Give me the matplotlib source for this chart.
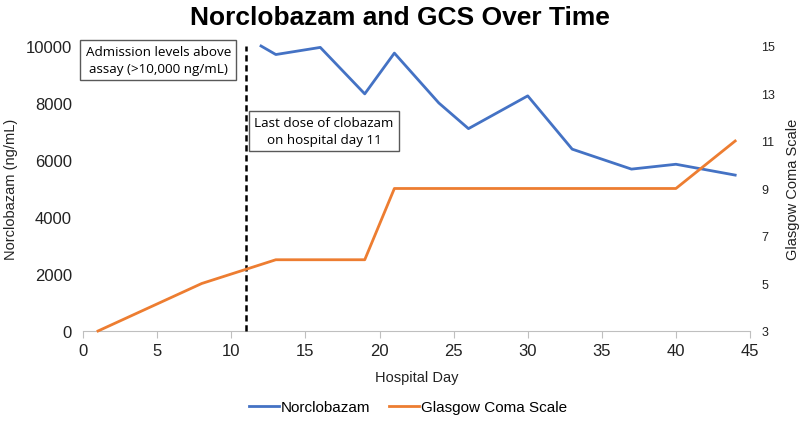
import matplotlib
matplotlib.use("Agg")
import matplotlib.pyplot as plt

plt.rcParams['font.family'] = ['Liberation Sans', 'DejaVu Sans']

# Data
nor_days = [12, 13, 16, 19, 21, 24, 26, 30, 33, 37, 40, 44]
nor_vals = [10000, 9700, 9950, 8320, 9750, 8000, 7100, 8250, 6380, 5680, 5850, 5470]
gcs_days = [1, 8, 13, 19, 21, 40, 44]
gcs_vals = [3, 5, 6, 6, 9, 9, 11]
x_ticks = [0, 5, 10, 15, 20, 25, 30, 35, 40, 45]
left_ticks = [0, 2000, 4000, 6000, 8000, 10000]
right_ticks = [3, 5, 7, 9, 11, 13, 15]
last_dose_day = 11

blue = '#4472C4'
orange = '#ED7D31'

fig = plt.figure(figsize=(8, 4.31), dpi=100)
ax = fig.add_axes([0.104, 0.2297, 0.8335, 0.6613])
ax2 = ax.twinx()

l1, = ax.plot(nor_days, nor_vals, color=blue, lw=2.0, label='Norclobazam', clip_on=False)
l2, = ax2.plot(gcs_days, gcs_vals, color=orange, lw=2.0, label='Glasgow Coma Scale', clip_on=False)
ax.plot([last_dose_day, last_dose_day], [0, 10000], color='black', lw=1.8,
        ls=(0, (2.5, 1.5)), zorder=5, clip_on=False)

ax.set_xlim(0, 45)
ax.set_ylim(0, 10000)
ax2.set_ylim(3, 15)
ax.set_xticks(x_ticks)
ax.set_yticks(left_ticks)
ax2.set_yticks(right_ticks)

for a in (ax, ax2):
    for s in ['top', 'left', 'right', 'bottom']:
        a.spines[s].set_visible(False)
ax.spines['bottom'].set_visible(True)
ax.spines['bottom'].set_color('#BFBFBF')
ax.tick_params(axis='x', length=5, color='#BFBFBF', labelsize=12, pad=4, labelcolor='#222222')
ax.tick_params(axis='y', length=0, labelsize=12, pad=8, labelcolor='#222222')
ax2.tick_params(axis='y', length=0, labelsize=9, pad=8, labelcolor='#222222')

ax.set_xlabel('Hospital Day', fontsize=10.5, color='#222222', labelpad=8)
ax.set_ylabel('Norclobazam (ng/mL)', fontsize=10.5, color='#222222', labelpad=6)
ax2.set_ylabel('Glasgow Coma Scale', fontsize=10.5, color='#222222', labelpad=8)

fig.suptitle('Norclobazam and GCS Over Time', fontsize=19, fontweight='bold', y=0.985)

box = dict(boxstyle='square,pad=0.4', fc='white', ec='#595959', lw=1)
fig.text(0.198, 0.858, 'Admission levels above\nassay (>10,000 ng/mL)', ha='center', va='center',
         fontsize=9.7, family=['Open Sans', 'DejaVu Sans'], bbox=box, linespacing=1.35)
fig.text(0.405, 0.694, 'Last dose of clobazam\non hospital day 11', ha='center', va='center',
         fontsize=9.7, family=['Open Sans', 'DejaVu Sans'], bbox=box, linespacing=1.35)

fig.legend([l1, l2], ['Norclobazam', 'Glasgow Coma Scale'], loc='center', bbox_to_anchor=(0.51, 0.053),
           ncol=2, frameon=False, fontsize=11, handlelength=2.0, handletextpad=0.1, columnspacing=1.2)

fig.savefig('out.png', dpi=100)
